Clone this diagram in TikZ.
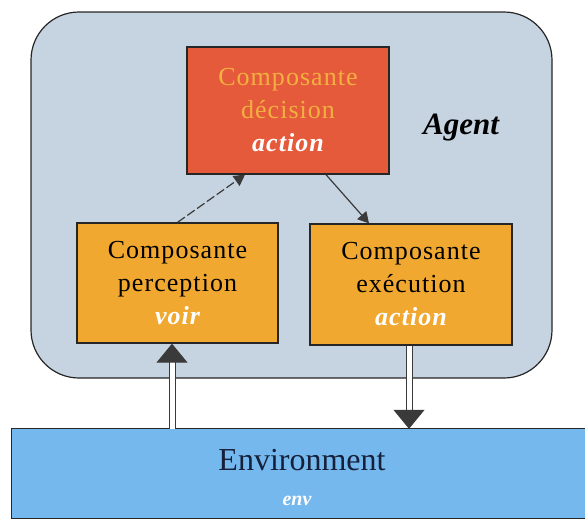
\documentclass[tikz,border=0pt]{standalone}
\usepackage{fontspec}
\setmainfont{Liberation Serif}
\newfontfamily\boxfont[LetterSpace=4]{Liberation Serif}
\usetikzlibrary{arrows.meta}

\definecolor{agentbg}{HTML}{C6D3E0}
\definecolor{decfill}{HTML}{E65A3C}
\definecolor{decfont}{HTML}{F2B040}
\definecolor{compfill}{HTML}{F0A830}
\definecolor{envfill}{HTML}{74B8EE}
\definecolor{envfont}{HTML}{16203A}
\definecolor{tipgray}{HTML}{3A3A3A}

\tikzset{
  x=1pt, y=-1pt,
  compbox/.style={draw=black!85, line width=1.3pt, fill=compfill, align=center,
    inner sep=0pt, font=\boxfont\fontsize{26}{33}\selectfont},
  tag/.style={font=\bfseries\itshape, text=white},
  thinarrow/.style={draw=tipgray, line width=1.2pt, -{Triangle[length=11pt,width=12pt]}},
  dblarrow/.style={draw=tipgray, double=white, double distance=5pt, line width=1pt,
    -{Triangle[length=19pt,width=31pt]}},
}

\begin{document}
\begin{tikzpicture}
\useasboundingbox (0,0) rectangle (585,520);

% agent frame
\node[draw=black!85, line width=1.2pt, fill=agentbg, rounded corners=48pt,
      minimum width=521pt, minimum height=366pt, inner sep=0pt] (agent) at (291.5,195) {};
\node[font=\bfseries\itshape\fontsize{31}{36}\selectfont] (agentlbl) at (461,128) {Agent};

% components
\node[compbox, fill=decfill, text=decfont, minimum width=202pt, minimum height=127pt]
  (dec) at (288,110.5) {Composante\\décision\\{\color{white}\bfseries\itshape action}};
\node[compbox, minimum width=201pt, minimum height=120pt]
  (pcp) at (177.5,283) {Composante\\perception\\{\color{white}\bfseries\itshape voir}};
\node[compbox, minimum width=202pt, minimum height=121pt]
  (exe) at (411,284.5) {Composante\\exécution\\{\color{white}\bfseries\itshape action}};

% environment: the band runs off the right edge, so only three sides are stroked
\node[fill=envfill, minimum width=573pt, minimum height=89pt, inner sep=0pt]
  (env) at (298.5,473.5) {};
\draw[black!85, line width=1.2pt] (env.north east) -- (env.north west)
  -- (env.south west) -- (env.south east);
\node[font=\fontsize{32}{36}\selectfont, text=envfont] (envlbl) at (302,460) {Environment};
\node[tag, font=\bfseries\itshape\fontsize{20}{22}\selectfont] (envtag) at (297,501) {env};

% internal flow
\draw[thinarrow, dash pattern=on 9pt off 3pt] (pcp.north) -- ([xshift=-43pt]dec.south);
\draw[thinarrow] ([xshift=38pt]dec.south) -- ([xshift=-42pt]exe.north);

% exchanges with the environment
\coordinate (upx) at (172,0);
\coordinate (dnx) at (409,0);
\draw[dblarrow] (env.north -| upx) -- (pcp.south -| upx);
\draw[dblarrow] (exe.south -| dnx) -- (env.north -| dnx);
\end{tikzpicture}
\end{document}
